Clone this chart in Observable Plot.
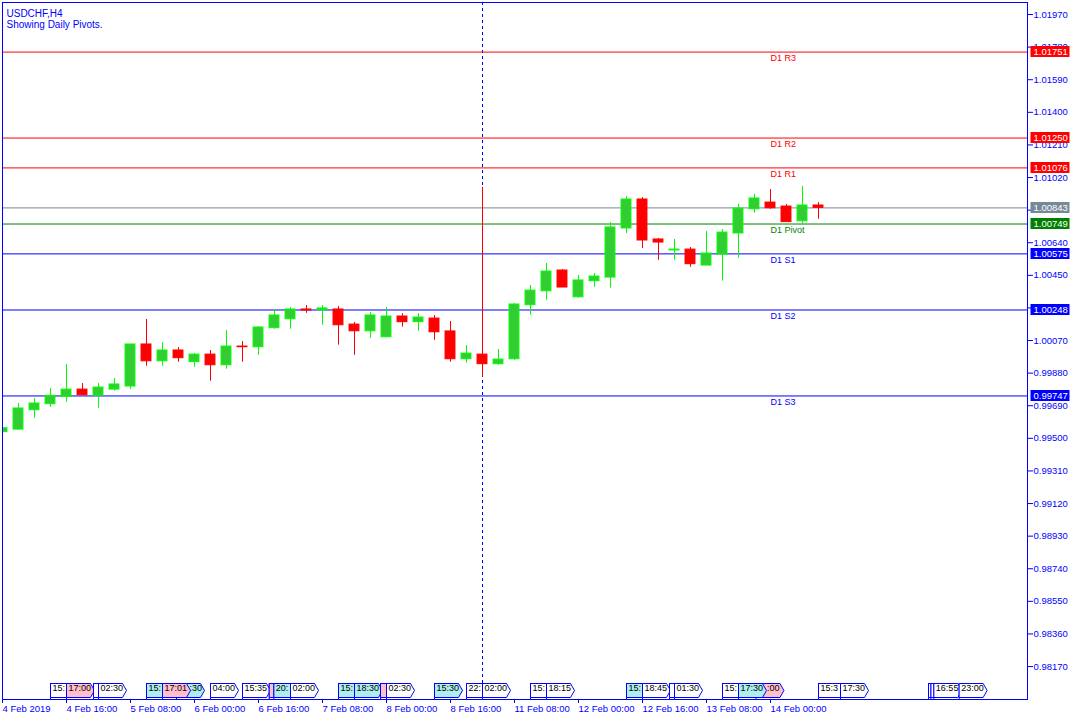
<!DOCTYPE html>
<html><head><meta charset="utf-8">
<script src="https://cdn.jsdelivr.net/npm/d3@7"></script>
<script src="https://cdn.jsdelivr.net/npm/@observablehq/plot@0.6"></script>
<style>html,body{margin:0;padding:0;background:#fff;} svg{display:block}</style>
</head><body><div id="chart"></div>
<script>
// H4 candles, USDCHF 4 Feb 2019 00:00 .. 14 Feb 2019 12:00 (bar index = position)
const opens  = [0.99536,0.99551,0.99664,0.99699,0.99742,0.99784,0.99749,0.99784,0.99802,1.00047,
                0.99949,1.00012,0.99944,0.99988,0.99926,1.00035,1.00031,1.00142,1.00194,1.00251,
                1.00247,1.00251,1.00163,1.00124,1.00089,1.00210,1.00177,1.00198,1.00123,0.99961,
                0.99988,0.99932,0.99961,1.00276,1.00357,1.00478,1.00322,1.00416,1.00437,1.00723,
                1.00892,1.00659,1.00595,1.00600,1.00507,1.00571,1.00694,1.00835,1.00874,1.00851,
                1.00765,1.00857];
const highs  = [0.99563,0.99703,0.99732,0.99790,0.99930,0.99819,0.99819,0.99849,1.00047,1.00193,
                1.00058,1.00029,0.99994,1.00012,1.00128,1.00064,1.00152,1.00251,1.00262,1.00274,
                1.00274,1.00268,1.00175,1.00233,1.00262,1.00227,1.00227,1.00216,1.00181,1.00041,
                1.00962,1.00018,1.00286,1.00391,1.00519,1.00484,1.00449,1.00461,1.00758,1.00909,
                1.00903,1.00665,1.00659,1.00612,1.00705,1.00717,1.00863,1.00921,1.00950,1.00863,
                1.00968,1.00874];
const lows   = [0.99534,0.99547,0.99617,0.99680,0.99710,0.99751,0.99675,0.99775,0.99784,0.99920,
                0.99920,0.99944,0.99914,0.99833,0.99903,0.99944,0.99984,1.00136,1.00136,1.00229,
                1.00159,1.00043,0.99984,1.00083,1.00089,1.00148,1.00124,1.00072,0.99944,0.99938,
                0.99856,0.99926,0.99955,1.00218,1.00305,1.00379,1.00317,1.00381,1.00375,1.00694,
                1.00606,1.00538,1.00538,1.00497,1.00507,1.00416,1.00550,1.00812,1.00835,1.00760,
                1.00748,1.00777];
const closes = [0.99559,0.99674,0.99703,0.99748,0.99784,0.99751,0.99796,0.99814,1.00047,0.99949,
                1.00012,0.99967,0.99988,0.99926,1.00035,1.00031,1.00146,1.00216,1.00251,1.00245,
                1.00257,1.00159,1.00124,1.00216,1.00210,1.00177,1.00204,1.00118,0.99961,0.99994,
                0.99932,0.99959,1.00280,1.00361,1.00472,1.00379,1.00420,1.00443,1.00729,1.00892,
                1.00653,1.00641,1.00600,1.00515,1.00577,1.00699,1.00839,1.00898,1.00841,1.00760,
                1.00857,1.00843];

const timeTickBars   = [0,4,8,12,16,20,24,28,32,36,40,44,48];
const timeTickLabels = ["4 Feb 2019","4 Feb 16:00","5 Feb 08:00","6 Feb 00:00","6 Feb 16:00","7 Feb 08:00",
                        "8 Feb 00:00","8 Feb 16:00","11 Feb 08:00","12 Feb 00:00","12 Feb 16:00","13 Feb 08:00","14 Feb 00:00"];
const priceTicks = [1.01970,1.01780,1.01590,1.01400,1.01210,1.01020,1.00830,1.00640,1.00450,1.00260,1.00070,
                    0.99880,0.99690,0.99500,0.99310,0.99120,0.98930,0.98740,0.98550,0.98360,0.98170];

const pivotNames  = ["D1 R3","D1 R2","D1 R1","D1 Pivot","D1 S1","D1 S2","D1 S3"];
const pivotValues = [1.01751,1.01250,1.01076,1.00749,1.00575,1.00248,0.99747];
const pivotKinds  = ["R","R","R","P","S","S","S"];
const bidPrice = 1.00843;
const markerBar = 30;

// calendar events along the time axis (in drawing order); texts as they show on the boxes
const eventBars  = [3.0,4.0,5.69,6.0,9.0,10.875,10.0,13.0,15.0,16.67,16.96,18.0,21.0,22.0,23.625,24.0,
                    27.0,29.0,30.0,33.0,34.0,39.0,40.0,41.69,42.0,45.0,47.09,46.0,51.0,52.375,57.875,58.03,58.21,59.79];
const eventTimes = ["15:","17:00","","02:30","15:",":30","17:01","04:00","15:35","","20:","02:00",
                    "15:","18:30","","02:30","15:30","22:","02:00","15:","18:15","15:","18:45","",
                    "01:30","15:",":00","17:30","15:3","17:30","","","16:55","23:00"];
const eventTextShift = [0,0,0,0,0,11,0,0,0,0,0,0,0,0,0,0,0,0,0,0,0,0,0,0,0,0,9,0,0,0,0,0,0,0];
const eventKinds = ["w","p","w","w","c","c","p","w","w","p","c","w","c","c","p","w","c","w","w","w","w","c","w","w",
                    "w","w","p","c","w","w","w","w","w","w"];

const BLUE = "#0000FF";
const kindFill = {w: "#FFFFFF", c: "#AFEEEE", p: "#FFC0CB"};
const pivotColor = {R: "#FF0000", P: "#008000", S: "#0000FF"};
const fmt = d3.format(".5f");

const bars = opens.map((o, i) => ({i, open: o, high: highs[i], low: lows[i], close: closes[i]}));
const up = bars.filter(d => d.close >= d.open);
const down = bars.filter(d => d.close < d.open);
const levels = pivotValues.map((v, k) => ({v, name: pivotNames[k], kind: pivotKinds[k]}));
const priceBoxes = [...levels.map(d => ({v: d.v, c: pivotColor[d.kind]})), {v: bidPrice, c: "#778899"}];

const eventBox = {draw(ctx) { ctx.moveTo(0, -16); ctx.lineTo(24, -16); ctx.lineTo(28, -9); ctx.lineTo(24, -2); ctx.lineTo(0, -2); ctx.closePath(); }};
const priceBox = {draw(ctx) { ctx.rect(3, -6, 39, 11); }};

const halfBody = 0.31;

const marks = [
  Plot.ruleX([markerBar], {x: d => d, stroke: BLUE, strokeDasharray: "3,3"}),
  ...levels.map(d => Plot.ruleY([d], {y: "v", stroke: pivotColor[d.kind]})),
  Plot.ruleY([bidPrice], {y: d => d, stroke: "#778899"}),
  Plot.ruleX(up, {x: "i", y1: "low", y2: "high", stroke: "#00FF00", clip: true}),
  Plot.ruleX(down, {x: "i", y1: "low", y2: "high", stroke: "#FF0000", clip: true}),
  Plot.rect(up, {x1: d => d.i - halfBody, x2: d => d.i + halfBody, y1: "open", y2: "close", fill: "#32CD32", stroke: "#00FF00", clip: true}),
  Plot.rect(down, {x1: d => d.i - halfBody, x2: d => d.i + halfBody, y1: "open", y2: "close", fill: "#FF0000", stroke: "#FF0000", clip: true}),
  ...levels.map(d => Plot.text([d], {x: () => 48, y: "v", text: "name", dy: 6.5, textAnchor: "start", fill: pivotColor[d.kind], fontSize: 9})),
  Plot.axisY({anchor: "right", ticks: priceTicks, tickFormat: fmt, tickSize: 5, tickPadding: 1, color: BLUE, fontSize: 9.5}),
  Plot.axisX({anchor: "bottom", ticks: timeTickBars, tickFormat: d => timeTickLabels[timeTickBars.indexOf(d)], tickSize: 4, tickPadding: 2, textAnchor: "start", dx: 0, color: BLUE, fontSize: 9.5}),
  ...priceBoxes.map(d => Plot.dot([d], {y: "v", frameAnchor: "right", symbol: priceBox, fill: d.c, stroke: "none", r: 4})),
  ...priceBoxes.map(d => Plot.text([d], {y: "v", text: x => fmt(x.v), frameAnchor: "right", dx: 6, textAnchor: "start", fill: "white", fontSize: 9.5})),
  ...eventBars.flatMap((b, k) => {
    const d = [{b, t: eventTimes[k]}];
    const m = [
      Plot.ruleX(d, {x: "b", stroke: BLUE, insetTop: 681}),
      Plot.dot(d, {x: "b", frameAnchor: "bottom", symbol: eventBox, fill: kindFill[eventKinds[k]], stroke: BLUE, strokeWidth: 1, r: 4})
    ];
    if (eventTimes[k]) m.push(Plot.text(d, {x: "b", text: "t", frameAnchor: "bottom", dx: 2 + eventTextShift[k], dy: -9, textAnchor: "start", fill: "black", fontSize: 9}));
    return m;
  }),
  Plot.text(["USDCHF,H4"], {text: d => d, frameAnchor: "top-left", dx: 4, dy: 7, textAnchor: "start", fill: BLUE, fontSize: 10}),
  Plot.text(["Showing Daily Pivots."], {text: d => d, frameAnchor: "top-left", dx: 4, dy: 18.5, textAnchor: "start", fill: BLUE, fontSize: 10}),
  Plot.frame({stroke: BLUE})
];

const chart = Plot.plot({
  width: 1080,
  height: 720,
  marginTop: 2,
  marginLeft: 2,
  marginRight: 53,
  marginBottom: 21,
  x: {type: "linear", domain: [0, 64.0625]},
  y: {type: "linear", domain: [0.97978, 1.02040]},
  style: {fontFamily: "'Liberation Sans', Arial, sans-serif", fontSize: "9px", background: "#fff", overflow: "visible"},
  marks
});
document.getElementById("chart").appendChild(chart);
</script>
</body></html>
